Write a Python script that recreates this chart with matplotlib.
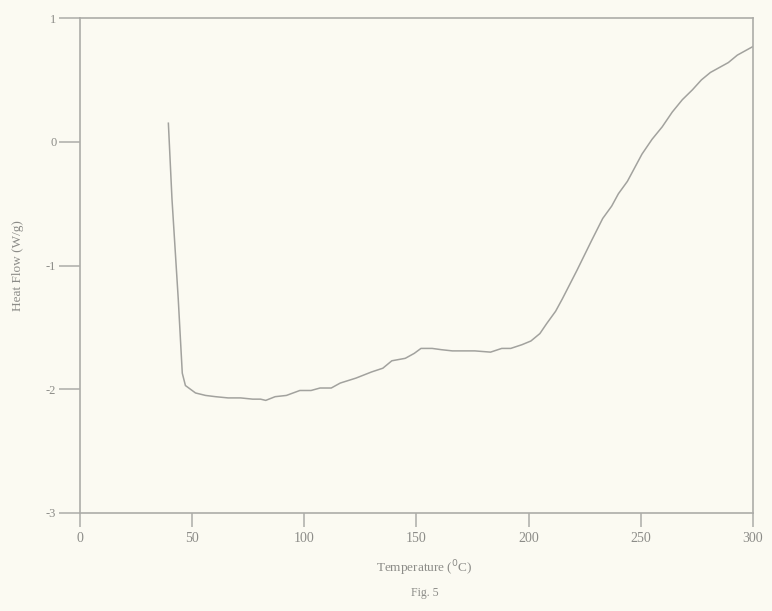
import numpy as np
import matplotlib.pyplot as plt

# temperature (deg C) and heat flow (W/g)
temp = [39.4, 41.0, 43.8, 45.6, 47.0, 51.5, 56.0, 60.4, 66.0, 71.6, 77.0, 80.5, 82.8,
        87.0, 92.0, 98.0, 103.0, 107.0, 112.0, 116.0, 123.0, 130.0, 135.0, 139.0,
        145.0, 149.0, 152.0, 157.0, 161.0, 166.0, 170.0, 176.0, 183.0, 188.0, 192.0,
        197.0, 201.0, 205.0, 208.0, 212.0, 215.0, 221.5, 228.0, 233.0, 237.0, 240.0,
        244.0, 250.5, 255.0, 259.5, 264.0, 268.5, 273.0, 277.0, 281.0, 284.0, 289.0,
        293.0, 297.0, 300.0]
heat_flow = [0.15, -0.46, -1.27, -1.87, -1.97, -2.03, -2.05, -2.06, -2.07, -2.07,
             -2.08, -2.08, -2.09, -2.06, -2.05, -2.01, -2.01, -1.99, -1.99, -1.95,
             -1.91, -1.86, -1.83, -1.77, -1.75, -1.71, -1.67, -1.67, -1.68, -1.69,
             -1.69, -1.69, -1.70, -1.67, -1.67, -1.64, -1.61, -1.55, -1.47, -1.37,
             -1.27, -1.04, -0.80, -0.62, -0.52, -0.42, -0.32, -0.10, 0.02, 0.12,
             0.24, 0.34, 0.42, 0.50, 0.56, 0.59, 0.64, 0.70, 0.74, 0.77]

xticks = [0, 50, 100, 150, 200, 250, 300]
yticks = [1, 0, -1, -2, -3]

paper = '#fbfaf2'
ink = '#8c8c88'
rule = '#acaca8'

plt.rcParams['font.family'] = ['Liberation Serif', 'DejaVu Serif']

fig = plt.figure(figsize=(7.72, 6.11), dpi=100, facecolor=paper)
# axes box: x from ~80 to ~753 px, y from ~18 to ~513 px
ax = fig.add_axes([0.1036, 0.1604, 0.8718, 0.8101], facecolor=paper)

ax.plot(temp, heat_flow, color='#a2a29e', lw=1.1)

ax.set_xlim(0, 300)
ax.set_ylim(-3, 1)
ax.set_xticks(xticks)
ax.set_yticks(yticks)
ax.set_yticklabels(['1', '0', '-1', '-2', '-3'])

for s in ax.spines.values():
    s.set_color(rule)
    s.set_linewidth(1.2)

ax.tick_params(axis='x', direction='out', length=10, width=1.1, color=rule,
               labelcolor=ink, labelsize=10, pad=4)
ax.tick_params(axis='y', direction='out', length=15, width=1.1, color=rule,
               labelcolor=ink, labelsize=9, pad=2)

ax.set_xlabel('Temperature ($^{0}$C)', color=ink, fontsize=9.5)
ax.xaxis.set_label_coords(0.512, -0.092)
ax.set_ylabel('Heat Flow (W/g)', color=ink, fontsize=9.5)
ax.yaxis.set_label_coords(-0.083, 0.5)
fig.text(0.55, 0.025, 'Fig. 5', color=ink, fontsize=8.5, ha='center')

plt.savefig('out.png', dpi=100, facecolor=paper)
